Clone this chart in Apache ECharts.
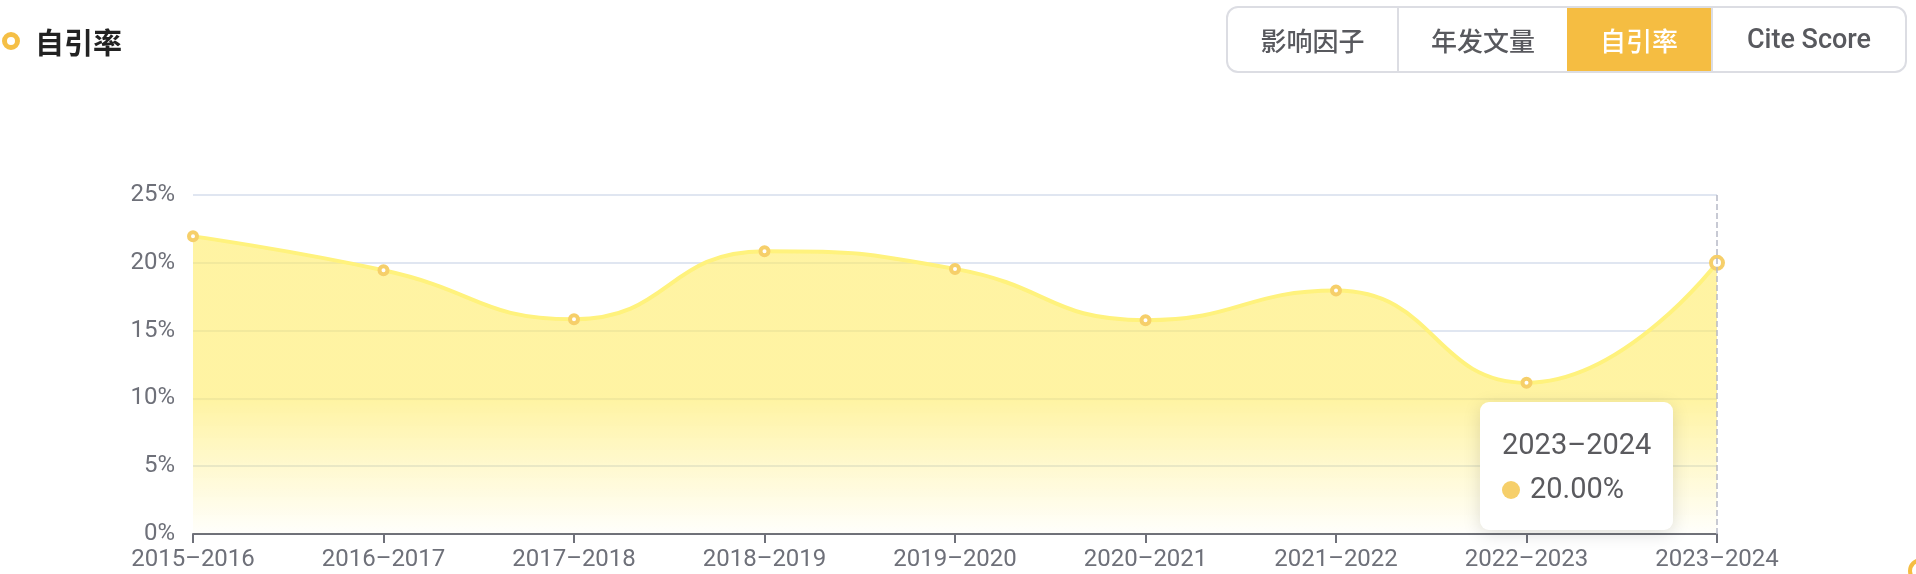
<!DOCTYPE html>
<html>
<head>
<meta charset="utf-8">
<script src="https://cdn.jsdelivr.net/npm/echarts@6/dist/echarts.min.js"></script>
<style>
  html, body { margin: 0; padding: 0; background: #fff; width: 1916px; height: 574px; overflow: hidden; font-family: Roboto, 'Noto Sans CJK SC', sans-serif; }
  #chart { position: absolute; left: 0; top: 0; width: 1916px; height: 574px; }
  .title { position: absolute; left: 0; top: 19px; height: 44px; display: flex; align-items: center; z-index: 2; }
  .dot { width: 8px; height: 8px; border-radius: 50%; border: 5px solid #F5BF45; background: #fff; margin-left: 2px; }
  .title span { font-family: 'Noto Sans CJK SC', sans-serif; font-weight: 700; font-size: 29px; color: #222; margin-left: 15px; }
  .tabs { position: absolute; left: 1226px; top: 6px; width: 681px; height: 67px; border: 2px solid #DCDDE3; border-radius: 12px; overflow: hidden; display: flex; z-index: 2; box-sizing: border-box; }
  .tab { height: 100%; display: flex; align-items: center; justify-content: center; font-size: 26px; color: #58595e; font-family: 'Noto Sans CJK SC', sans-serif; font-weight: 500; box-sizing: border-box; padding-bottom: 1px; }
  .tab.cite { font-family: Roboto, sans-serif; font-weight: 500; font-size: 27px; }
  .tab + .tab { border-left: 2px solid #DCDDE3; }
  .tab.active { background: #F5BD42; color: #fff; border-left: none; }
  .corner { position: absolute; left: 1908px; top: 558px; width: 18px; height: 18px; border-radius: 50%; border: 4px solid #F5BD42; z-index: 2; }
</style>
</head>
<body>
<div id="chart"></div>
<div class="title"><div class="dot"></div><span>自引率</span></div>
<div class="tabs">
  <div class="tab" style="width:169px">影响因子</div>
  <div class="tab" style="width:170px">年发文量</div>
  <div class="tab active" style="width:144px">自引率</div>
  <div class="tab cite" style="width:194px">Cite Score</div>
</div>
<div class="corner"></div>
<script>
const categories = ['2015–2016','2016–2017','2017–2018','2018–2019','2019–2020','2020–2021','2021–2022','2022–2023','2023–2024'];
const selfCiteRate = [21.95, 19.45, 15.84, 20.85, 19.55, 15.77, 17.95, 11.15, 20.00];
const yTicks = { min: 0, max: 25, interval: 5 };

const chart = echarts.init(document.getElementById('chart'), null, { renderer: 'canvas' });
const labelFont = 'Roboto, "Noto Sans CJK SC", sans-serif';

chart.setOption({
  animation: false,
  grid: { left: 193, right: 199, top: 195, bottom: 40 },
  tooltip: {
    trigger: 'axis',
    alwaysShowContent: true,
    backgroundColor: '#fff',
    borderWidth: 0,
    padding: [20, 22, 20, 22],
    extraCssText: 'box-shadow: 0 4px 18px rgba(0,0,0,0.13); border-radius: 9px;',
    position: function () { return [1480, 402]; },
    axisPointer: { type: 'line', lineStyle: { color: '#B6B9C6', width: 1.5, type: 'dashed' } },
    formatter: function (params) {
      const p = params[0];
      return '<div style="font-family:' + labelFont.replace(/"/g, "'") + ';font-size:29px;line-height:44px;color:#5a5a5e;">' +
        p.name + '<br/>' +
        '<span style="display:inline-block;width:18px;height:18px;border-radius:50%;background:#F6CF6A;margin-right:10px;vertical-align:-1px;"></span>' +
        p.value.toFixed(2) + '%</div>';
    }
  },
  xAxis: {
    type: 'category',
    data: categories,
    boundaryGap: false,
    axisLine: { lineStyle: { color: '#6E7079', width: 2 } },
    axisTick: { show: true, length: 9, lineStyle: { color: '#6E7079', width: 2 } },
    axisLabel: { color: '#6E7079', fontSize: 24, margin: 14, fontFamily: labelFont }
  },
  yAxis: {
    type: 'value',
    min: yTicks.min, max: yTicks.max, interval: yTicks.interval,
    axisLine: { show: false },
    axisTick: { show: false },
    splitLine: { lineStyle: { color: '#E0E6F1', width: 2 } },
    axisLabel: { color: '#6E7079', fontSize: 24, margin: 18, fontFamily: labelFont, formatter: '{value}%' }
  },
  series: [{
    type: 'line',
    data: selfCiteRate,
    smooth: true,
    symbol: 'circle',
    symbolSize: 8,
    itemStyle: { color: '#ffffff', borderColor: '#F6CF6A', borderWidth: 4 },
    lineStyle: { color: '#F8DC72', width: 4 },
    emphasis: { scale: 1.5 },
    areaStyle: {
      opacity: 1,
      color: new echarts.graphic.LinearGradient(0, 0, 0, 1, [
        { offset: 0, color: 'rgba(247,214,88,0.58)' },
        { offset: 0.55, color: 'rgba(247,214,88,0.58)' },
        { offset: 0.78, color: 'rgba(247,214,88,0.29)' },
        { offset: 1, color: 'rgba(247,214,88,0.02)' }
      ])
    }
  }]
});

chart.dispatchAction({ type: 'showTip', seriesIndex: 0, dataIndex: 8 });
</script>
</body>
</html>
